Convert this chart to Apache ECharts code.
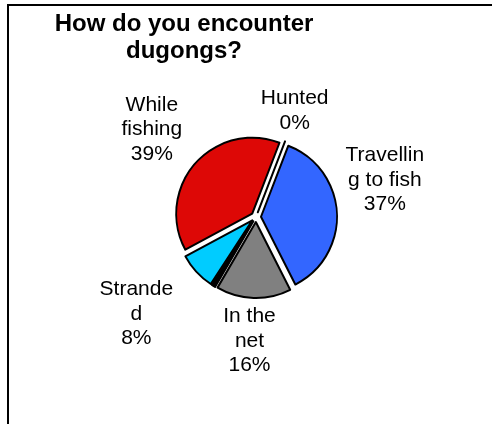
<!DOCTYPE html>
<html>
<head>
<meta charset="utf-8">
<script src="https://cdn.jsdelivr.net/npm/echarts@6/dist/echarts.min.js"></script>
<style>
html,body{margin:0;padding:0;background:#fff;}
#chart{width:492px;height:424px;}
</style>
</head>
<body>
<div id="chart"></div>
<script>
// ---- data ----
var titleText = 'How do you encounter\ndugongs?';
var categories = ['Hunted', 'Travelling to fish', 'In the net', '', 'Stranded', 'While fishing'];
var values = [0, 37, 16, 0.8, 8, 39];
var colors = ['#000000', '#3366FF', '#808080', '#000000', '#00CCFF', '#DD0806'];
// label text as wrapped in the original
var labelText = {
  'Hunted': 'Hunted',
  'Travelling to fish': 'Travellin\ng to fish',
  'In the net': 'In the\nnet',
  'Stranded': 'Strande\nd',
  'While fishing': 'While\nfishing'
};

// ---- layout ----
var CX = 256, CY = 217, R = 76;
// label block centres in polar form relative to the pie centre: [degrees clockwise from 12 o'clock, distance]
var labelPolar = {
  'Hunted': [20, 113],
  'Travelling to fish': [74, 134],
  'In the net': [183, 124],
  'Stranded': [231, 154],
  'While fishing': [310, 136]
};
var FONT = 'Liberation Sans, Arial, sans-serif';

var chart = echarts.init(document.getElementById('chart'), null, {renderer: 'canvas'});

var total = values.reduce(function (a, b) { return a + b; }, 0);

var data = categories.map(function (c, i) {
  return {
    name: c,
    value: values[i],
    selected: true,
    itemStyle: {color: colors[i]}
  };
});

var graphics = [{
  type: 'polyline',
  silent: true,
  shape: {points: [[8, 430], [8, 5], [500, 5]]},
  style: {stroke: '#000', lineWidth: 2, fill: null}
}];

categories.forEach(function (c, i) {
  var pol = labelPolar[c];
  if (!pol) return;
  var a = pol[0] * Math.PI / 180;
  var pct = Math.round(values[i] / total * 100);
  graphics.push({
    type: 'text',
    silent: true,
    x: CX + pol[1] * Math.sin(a),
    y: CY - pol[1] * Math.cos(a),
    style: {
      text: labelText[c] + '\n' + pct + '%',
      fontFamily: FONT,
      fontSize: 21,
      lineHeight: 24.5,
      fill: '#000',
      align: 'center',
      verticalAlign: 'middle',
      textAlign: 'center',
      textVerticalAlign: 'middle'
    }
  });
});

var option = {
  animation: false,
  backgroundColor: '#ffffff',
  title: {
    text: titleText,
    left: 184,
    top: 11,
    padding: 0,
    textAlign: 'center',
    textStyle: {
      fontFamily: FONT,
      fontSize: 24,
      fontWeight: 'bold',
      color: '#000',
      lineHeight: 27
    }
  },
  graphic: graphics,
  series: [{
    type: 'pie',
    center: [CX, CY],
    radius: [0, R],
    startAngle: 69,
    clockwise: true,
    selectedMode: 'multiple',
    selectedOffset: 5,
    avoidLabelOverlap: false,
    silent: true,
    emphasis: {disabled: true},
    itemStyle: {borderColor: '#000', borderWidth: 2},
    select: {itemStyle: {borderColor: '#000', borderWidth: 2}},
    label: {show: false},
    labelLine: {show: false},
    data: data
  }]
};
chart.setOption(option);
</script>
</body>
</html>
